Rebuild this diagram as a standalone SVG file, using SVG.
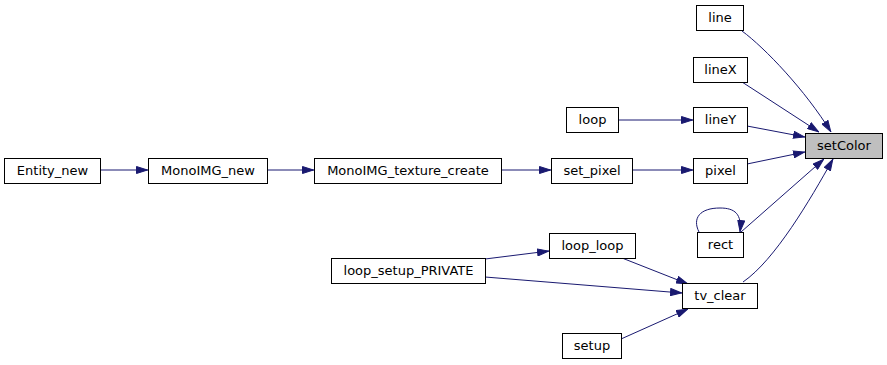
<svg xmlns="http://www.w3.org/2000/svg" width="887" height="365" viewBox="0 0 887 365">
  <style>
    .node rect { fill: #ffffff; stroke: #000000; stroke-width: 1; }
    .node.hl rect { fill: #bfbfbf; }
    .node text { font-family: "DejaVu Sans", "Liberation Sans", sans-serif; font-size: 13px; fill: #000000; text-anchor: middle; }
    .edge { fill: none; stroke: #191970; stroke-width: 1; marker-end: url(#arrow); }
  </style>
  <defs>
    <marker id="arrow" viewBox="0 0 12 8" refX="12" refY="4" markerWidth="12" markerHeight="8" markerUnits="userSpaceOnUse" orient="auto">
      <path d="M0.5,0.5 L11.5,4 L0.5,7.5 z" fill="#191970" stroke="#191970" stroke-width="1"/>
    </marker>
  </defs>
  <rect width="887" height="365" fill="#ffffff"/>

  <g id="connectors">
    <path class="edge" d="M742,31 C765,48 805,90 831,132"/>
    <path class="edge" d="M742,82 L819,132"/>
    <path class="edge" d="M747,126 L805,137"/>
    <path class="edge" d="M747,164 L805,152"/>
    <path class="edge" d="M741,232 L824,159"/>
    <path class="edge" d="M743,282 C775,260 810,200 833,159"/>
    <path class="edge" d="M699,232 C692,218 700,208 720,208 C735,208 742,214 740,232"/>
    <path class="edge" d="M618,120 L693,120"/>
    <path class="edge" d="M632,170 L693,170"/>
    <path class="edge" d="M501,170 L551,170"/>
    <path class="edge" d="M267,170 L314,170"/>
    <path class="edge" d="M100,170 L148,170"/>
    <path class="edge" d="M485,259 L549,251"/>
    <path class="edge" d="M485,277 L682,293"/>
    <path class="edge" d="M622,258 L688,284"/>
    <path class="edge" d="M621,339 L688,309"/>
  </g>

  <g id="node-setColor" class="node hl"><rect x="805.5" y="133.5" width="77" height="25"/><text x="844" y="150">setColor</text></g>
  <g id="node-line" class="node"><rect x="696.5" y="5.5" width="47" height="25"/><text x="720" y="22">line</text></g>
  <g id="node-lineX" class="node"><rect x="693.5" y="57.5" width="54" height="25"/><text x="720.5" y="74">lineX</text></g>
  <g id="node-lineY" class="node"><rect x="693.5" y="107.5" width="54" height="25"/><text x="720.5" y="124">lineY</text></g>
  <g id="node-pixel" class="node"><rect x="693.5" y="158.5" width="54" height="25"/><text x="720.5" y="175">pixel</text></g>
  <g id="node-rect" class="node"><rect x="697.5" y="232.5" width="46" height="25"/><text x="720.5" y="249">rect</text></g>
  <g id="node-tv_clear" class="node"><rect x="682.5" y="283.5" width="75" height="25"/><text x="720" y="300">tv_clear</text></g>
  <g id="node-loop" class="node"><rect x="566.5" y="107.5" width="52" height="25"/><text x="592.5" y="124">loop</text></g>
  <g id="node-set_pixel" class="node"><rect x="551.5" y="158.5" width="81" height="25"/><text x="592" y="175">set_pixel</text></g>
  <g id="node-MonoIMG_texture_create" class="node"><rect x="314.5" y="158.5" width="187" height="25"/><text x="408" y="175">MonoIMG_texture_create</text></g>
  <g id="node-MonoIMG_new" class="node"><rect x="148.5" y="158.5" width="119" height="25"/><text x="208" y="175">MonoIMG_new</text></g>
  <g id="node-Entity_new" class="node"><rect x="4.5" y="158.5" width="96" height="25"/><text x="52.5" y="175">Entity_new</text></g>
  <g id="node-loop_loop" class="node"><rect x="549.5" y="233.5" width="86" height="25"/><text x="592.5" y="250">loop_loop</text></g>
  <g id="node-loop_setup_PRIVATE" class="node"><rect x="331.5" y="258.5" width="154" height="25"/><text x="408.5" y="275">loop_setup_PRIVATE</text></g>
  <g id="node-setup" class="node"><rect x="562.5" y="333.5" width="59" height="25"/><text x="592" y="350">setup</text></g>
</svg>
